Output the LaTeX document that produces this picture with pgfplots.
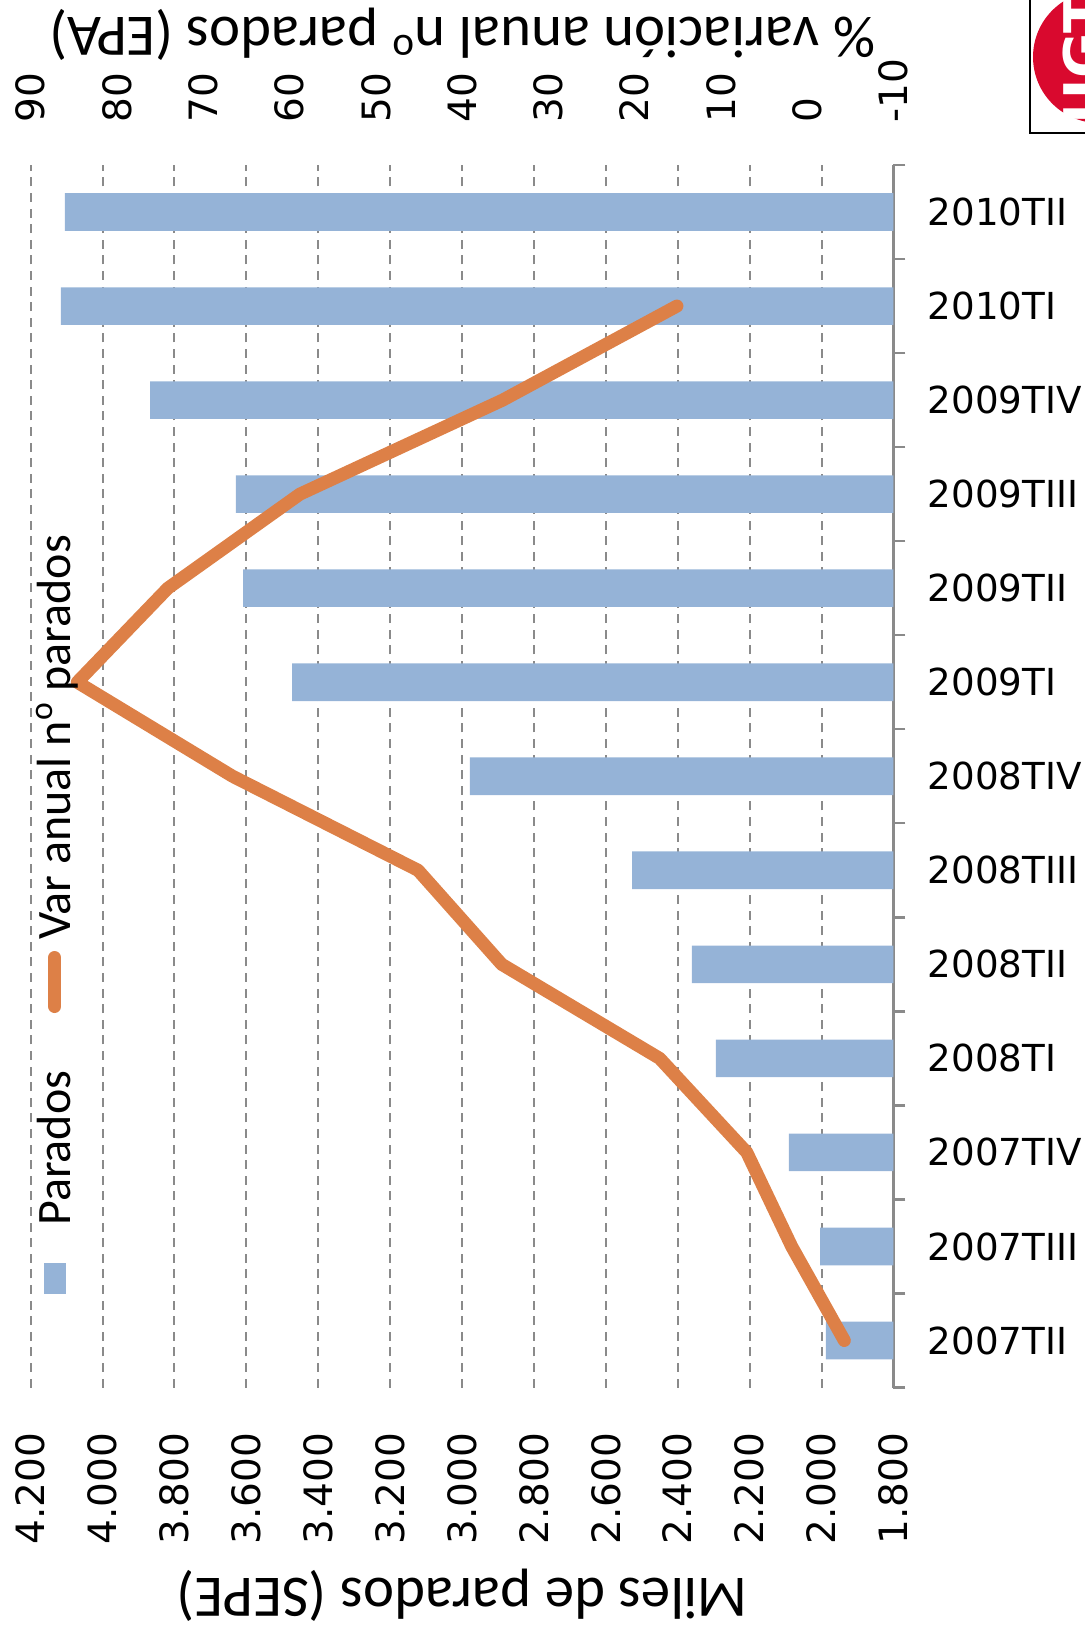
\documentclass[border=0pt]{standalone}
\usepackage{fontspec}
\setmainfont{DejaVu Sans}
\newfontfamily\carlito{Carlito}
\usepackage{pgfplots}
\usepackage{pgfplotstable}
\pgfplotsset{compat=1.18}
\definecolor{barblue}{HTML}{95B3D7}
\definecolor{lineorange}{HTML}{DD8047}
\definecolor{gridgray}{HTML}{8A8A8A}
\definecolor{ugtred}{HTML}{D9092E}

\pgfplotstableread{
idx sepe
0 1988
1 2004
2 2091
3 2294
4 2361
5 2527
6 2978
7 3473
8 3609
9 3629
10 3868
11 4116
12 4105
}\sepe
\pgfplotstableread{
idx epa
0 -4.3
1 1.8
2 7.0
3 17.1
4 35.4
5 45.1
6 66.6
7 84.6
8 74.1
9 58.8
10 35.3
11 15.1
}\epa

\begin{document}
\begin{tikzpicture}
\useasboundingbox (0,0) rectangle (542.5pt,-814.5pt);
\pgfplotsset{common/.style={
  at={(15.35pt,-693.75pt)}, anchor=south west,
  scale only axis, width=431.4pt, height=611.25pt,
  ymin=-0.5, ymax=12.5, x dir=reverse,
  /pgf/number format/assume math mode=true,
  major tick length=0pt,
}}
\begin{axis}[common,
  xmin=1800, xmax=4200,
  axis x line*=bottom, axis y line*=right,
  x axis line style={draw=none},
  y axis line style={draw=gridgray, line width=1.2pt},
  xtick={1800,2000,...,4200},
  scaled x ticks=false,
  /pgf/number format/1000 sep={.},
  xticklabel style={yshift=-22.5pt, rotate=90, anchor=east, inner sep=0pt, font=\fontsize{19.5}{23}\selectfont},
  xmajorgrids,
  grid style={gridgray, line width=1pt, dash pattern=on 4.5pt off 3.3pt},
  ytick={0,...,12},
  yticklabels={2007TII,2007TIII,2007TIV,2008TI,2008TII,2008TIII,2008TIV,2009TI,2009TII,2009TIII,2009TIV,2010TI,2010TII},
  yticklabel style={anchor=west, xshift=17pt, inner sep=0pt, font=\fontsize{18.6}{22}\selectfont},
  minor ytick={-0.5,0.5,...,12.5},
  minor tick length=6pt, tick align=outside,
  tick style={gridgray, line width=1.2pt},
  xlabel={Miles de parados (SEPE)},
  xlabel style={at={(axis description cs:0.5,-0.1697)}, anchor=center, rotate=180, font=\carlito\fontsize{29.4}{34}\selectfont},
]
\addplot[xbar, bar width=0.4, fill=barblue, draw=none, bar shift=0pt]
  table[x=sepe, y=idx] {\sepe};
\end{axis}
\begin{axis}[common,
  xmin=-10, xmax=90,
  axis x line*=top, axis y line=none,
  x axis line style={draw=none},
  xtick={-10,0,...,90},
  xticklabel style={yshift=21pt, rotate=90, anchor=west, inner sep=0pt, font=\fontsize{19.5}{23}\selectfont},
  xlabel={\% variación anual n\textsuperscript{o} parados (EPA)},
  xlabel style={at={(axis description cs:0.5,1.107)}, anchor=center, rotate=180, font=\carlito\fontsize{29.4}{34}\selectfont},
]
\addplot[lineorange, line width=6.5pt, line cap=round, line join=round] table[x=epa, y=idx] {\epa};
\end{axis}
% legend (rotated, as in the reference)
\begin{scope}[shift={(27.3pt,-647pt)}, rotate=90, transform shape]
\fill[barblue] (0pt,-5.5pt) rectangle (15.5pt,5.5pt);
\node[anchor=base west, inner sep=0pt, font=\carlito\fontsize{24}{28}\selectfont] at (34pt,-8pt) {Parados};
\draw[lineorange, line width=6.5pt, line cap=round] (143.75pt,0pt) -- (168.25pt,0pt);
\node[anchor=base west, inner sep=0pt, font=\carlito\fontsize{24}{28}\selectfont] at (177pt,-8pt) {Var anual n\textsuperscript{o} parados};
\end{scope}
% logo
\begin{scope}
\clip (515pt,0pt) rectangle (545pt,-66.5pt);
\fill[ugtred] (549.5pt,-28.5pt) circle (33pt);
\node[white, font=\bfseries\fontsize{28}{28}\selectfont, rotate=90] at (542pt,-30pt) {UGT};
\end{scope}
\draw[black, line width=0.6pt] (515pt,1pt) -- (515pt,-66.5pt) -- (546pt,-66.5pt);
\end{tikzpicture}
\end{document}
